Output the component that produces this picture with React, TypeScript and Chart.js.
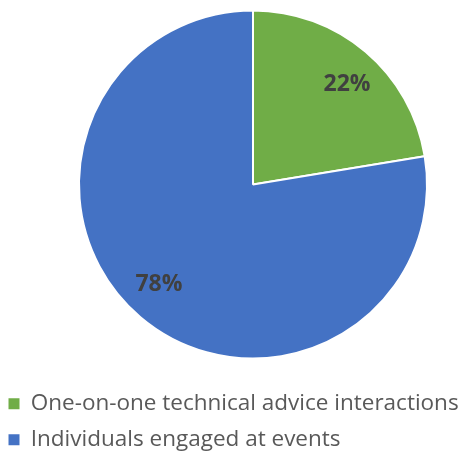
import React, { useEffect, useRef } from "react";
import { Chart, registerables } from "chart.js";

Chart.register(...registerables);

const categories = ["One-on-one technical advice interactions", "Individuals engaged at events"];
const values = [22.4, 77.6];
const colors = ["#70AD47", "#4472C4"];

const FONT = "'Open Sans', 'Noto Sans', sans-serif";

const labelPlugin = {
  id: "pctLabels",
  afterDatasetsDraw(chart: any) {
    const { ctx } = chart;
    const meta = chart.getDatasetMeta(0);
    const total = values.reduce((a, b) => a + b, 0);
    ctx.save();
    ctx.font = `bold 23px ${FONT}`;
    ctx.fillStyle = "#404040";
    ctx.textAlign = "center";
    ctx.textBaseline = "middle";
    meta.data.forEach((arc: any, i: number) => {
      const { x, y, startAngle, endAngle, outerRadius } = arc.getProps(
        ["x", "y", "startAngle", "endAngle", "outerRadius"],
        true
      );
      const mid = (startAngle + endAngle) / 2 + 0.05;
      const r = outerRadius * 0.79;
      const pct = Math.round((values[i] / total) * 100);
      ctx.fillText(pct + "%", x + Math.cos(mid) * r, y + Math.sin(mid) * r);
    });
    ctx.restore();
  },
};

export default function App() {
  const ref = useRef<HTMLCanvasElement>(null);
  useEffect(() => {
    document.body.style.margin = "0";
    document.body.style.overflow = "hidden";
    const defaultGen = (Chart as any).overrides.pie.plugins.legend.labels.generateLabels;
    const chart = new Chart(ref.current!, {
      type: "pie",
      data: {
        labels: categories,
        datasets: [
          {
            data: values,
            backgroundColor: colors,
            borderColor: "#FFFFFF",
            borderWidth: 2,
            radius: 174,
          },
        ],
      },
      options: {
        animation: false,
        responsive: false,
        devicePixelRatio: 1,
        layout: { padding: 0 },
        plugins: {
          tooltip: { enabled: false },
          legend: {
            position: "bottom",
            align: "start",
            labels: {
              boxWidth: 11,
              boxHeight: 11,
              padding: 13.5,
              color: "#595959",
              font: { size: 22.5, family: FONT },
              generateLabels: (c: any) =>
                defaultGen(c).map((l: any) => ({ ...l, lineWidth: 0, strokeStyle: l.fillStyle })),
            },
          },
        },
      },
      plugins: [labelPlugin],
    });
    return () => chart.destroy();
  }, []);
  return (
    <div style={{ position: "relative", width: 464, height: 455, overflow: "hidden" }}>
      <canvas
        ref={ref}
        width={516}
        height={471}
        style={{ position: "absolute", left: -5, top: -10, width: 516, height: 471 }}
      />
    </div>
  );
}
